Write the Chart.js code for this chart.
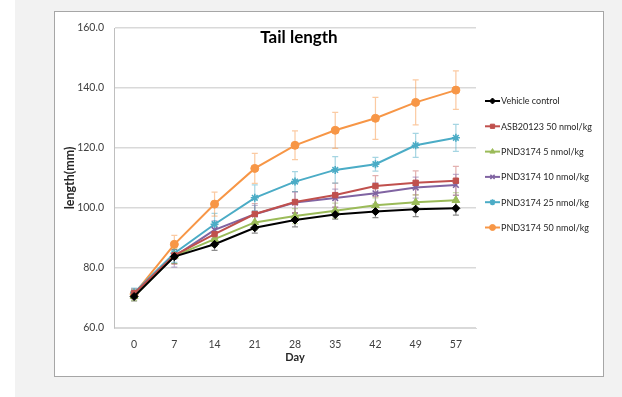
<!DOCTYPE html>
<html>
<head>
<meta charset="utf-8">
<title>Tail length</title>
<script src="https://cdn.jsdelivr.net/npm/chart.js@4.4.1/dist/chart.umd.min.js"></script>
<style>
  html, body { margin: 0; padding: 0; width: 622px; height: 397px; overflow: hidden; background: #ffffff; }
  #page { position: absolute; left: 15px; top: 0; width: 607px; height: 397px; background: #f2f2f2; }
  #frame { position: absolute; left: 54px; top: 11px; width: 548px; height: 364px; background: #ffffff; border: 1px solid #a6a6a6; }
  #wrap { position: absolute; left: 0; top: 0; width: 622px; height: 397px; }
  canvas { display: block; }
</style>
</head>
<body>
<div id="page"></div>
<div id="frame"></div>
<div id="wrap"><canvas id="c" width="622" height="397" style="width:622px;height:397px"></canvas></div>
<script>
// Measurement days
const days = ['0', '7', '14', '21', '28', '35', '42', '49', '57'];

// Group names
const groupNames = [
  'Vehicle control',
  'ASB20123 50 nmol/kg',
  'PND3174 5 nmol/kg',
  'PND3174 10 nmol/kg',
  'PND3174 25 nmol/kg',
  'PND3174 50 nmol/kg'
];

// Mean tail length (mm)
const vehicle = [70.5, 83.8, 87.9, 93.4, 96.0, 97.8, 98.8, 99.6, 99.9];
const asb50   = [71.6, 84.2, 91.3, 98.0, 102.0, 104.3, 107.3, 108.4, 109.1];
const pnd5    = [70.6, 84.0, 89.6, 95.2, 97.3, 99.1, 100.9, 101.9, 102.6];
const pnd10   = [71.2, 83.8, 92.7, 97.9, 101.8, 103.3, 104.9, 106.8, 107.7];
const pnd25   = [71.8, 84.9, 94.6, 103.4, 108.8, 112.7, 114.6, 120.9, 123.4];
const pnd50   = [71.3, 87.9, 101.3, 113.2, 120.9, 125.9, 129.9, 135.2, 139.3];

// Standard deviation (mm)
const vehicleSd = [1.5, 2.3, 2.0, 1.8, 2.3, 1.5, 2.0, 2.5, 2.3];
const asb50Sd   = [1.5, 3.0, 3.0, 3.5, 3.5, 4.0, 3.5, 4.0, 4.8];
const pnd5Sd    = [1.5, 2.5, 2.5, 2.5, 2.5, 2.5, 2.5, 2.5, 2.5];
const pnd10Sd   = [1.5, 3.5, 3.0, 3.0, 3.5, 3.0, 3.5, 3.5, 3.5];
const pnd25Sd   = [1.5, 3.0, 3.6, 4.3, 3.3, 4.4, 2.3, 4.0, 4.5];
const pnd50Sd   = [1.5, 3.0, 4.0, 5.0, 4.8, 6.0, 7.0, 7.5, 6.4];

// Y axis range
const yMin = 60, yMax = 160, yStep = 20;

const seriesValues = [vehicle, asb50, pnd5, pnd10, pnd25, pnd50];
const seriesSd = [vehicleSd, asb50Sd, pnd5Sd, pnd10Sd, pnd25Sd, pnd50Sd];
const lineColors = ['#000000', '#c0504d', '#9bbb59', '#8064a2', '#4bacc6', '#f79646'];
const barColors = ['rgba(0,0,0,0.45)', 'rgba(192,80,77,0.45)', 'rgba(155,187,89,0.5)',
                   'rgba(128,100,162,0.5)', 'rgba(75,172,198,0.5)', 'rgba(247,150,70,0.5)'];
const markers = ['rectRot', 'rect', 'triangle', 'crossRot', 'star', 'circle'];
const markerRadius = [4, 3.8, 4.5, 4, 4, 4];

const FONT = 'Lato, "Open Sans", sans-serif';

const datasets = seriesValues.map((vals, i) => ({
  label: groupNames[i],
  data: vals,
  borderColor: lineColors[i],
  backgroundColor: lineColors[i],
  borderWidth: 2,
  pointStyle: markers[i],
  pointRadius: markerRadius[i],
  pointBorderWidth: (markers[i] === 'crossRot' || markers[i] === 'star') ? 1.6 : 1,
  pointBackgroundColor: lineColors[i],
  pointBorderColor: lineColors[i],
  tension: 0,
  fill: false
}));

// Vertical error bars with short caps, drawn under the lines
const errorBars = {
  id: 'errorBars',
  beforeDatasetsDraw(chart) {
    const { ctx, scales: { x, y } } = chart;
    ctx.save();
    ctx.lineWidth = 1.2;
    chart.data.datasets.forEach((ds, i) => {
      const sd = seriesSd[i];
      ctx.strokeStyle = barColors[i];
      ds.data.forEach((v, j) => {
        const px = x.getPixelForValue(j);
        const top = y.getPixelForValue(v + sd[j]);
        const bot = y.getPixelForValue(v - sd[j]);
        ctx.beginPath();
        ctx.moveTo(px, top); ctx.lineTo(px, bot);
        ctx.moveTo(px - 3, top); ctx.lineTo(px + 3, top);
        ctx.moveTo(px - 3, bot); ctx.lineTo(px + 3, bot);
        ctx.stroke();
      });
    });
    ctx.restore();
  }
};

// Title inside the plot and the legend to its right
const annotations = {
  id: 'annotations',
  afterDraw(chart) {
    const { ctx, chartArea } = chart;
    ctx.save();
    ctx.fillStyle = '#000000';
    ctx.font = 'bold 17px ' + FONT;
    ctx.textAlign = 'center';
    ctx.textBaseline = 'middle';
    ctx.fillText('Tail length', 299, 38);

    const lx = chartArea.right + 9;
    const ly0 = 101, dy = 25.3;
    chart.data.datasets.forEach((ds, i) => {
      const yy = ly0 + i * dy;
      ctx.strokeStyle = lineColors[i];
      ctx.lineWidth = 2;
      ctx.beginPath();
      ctx.moveTo(lx, yy); ctx.lineTo(lx + 15, yy);
      ctx.stroke();
      ctx.fillStyle = lineColors[i];
      ctx.lineWidth = ds.pointBorderWidth;
      Chart.helpers.drawPoint(ctx, { pointStyle: markers[i], radius: 3, rotation: 0, borderWidth: ds.pointBorderWidth }, lx + 7.5, yy);
      ctx.fillStyle = '#262626';
      ctx.font = '9px ' + FONT;
      ctx.textAlign = 'left';
      ctx.textBaseline = 'middle';
      ctx.fillText(ds.label, lx + 16, yy + 0.5);
    });
    ctx.restore();
  }
};

new Chart(document.getElementById('c'), {
  type: 'line',
  data: { labels: days, datasets },
  options: {
    responsive: false,
    animation: false,
    layout: { padding: { left: 0, right: 146, top: 28, bottom: 0 } },
    plugins: {
      legend: { display: false },
      title: { display: false },
      tooltip: { enabled: false }
    },
    scales: {
      x: {
        type: 'category',
        offset: true,
        grid: { display: false, drawTicks: false },
        border: { display: true, color: '#d9d9d9', width: 1 },
        ticks: { color: '#404040', font: { family: FONT, size: 10.5 }, padding: 10, maxRotation: 0 },
        title: { display: true, text: 'Day', color: '#262626', font: { family: FONT, size: 11, weight: 'bold' }, padding: { top: 0, bottom: 33 } },
        afterFit(scale) { scale.height = 69; }
      },
      y: {
        min: yMin,
        max: yMax,
        ticks: {
          stepSize: yStep,
          color: '#404040',
          font: { family: FONT, size: 10.5 },
          padding: 10,
          callback: v => Number(v).toFixed(1)
        },
        grid: { color: '#d9d9d9', lineWidth: 1.5, drawTicks: false },
        border: { display: true, color: '#bfbfbf', width: 1 },
        title: { display: true, text: 'length(mm)', color: '#262626', font: { family: FONT, size: 12.5, weight: 'bold' }, padding: { top: 62, bottom: 0 } },
        afterFit(scale) { scale.width = 114; }
      }
    }
  },
  plugins: [errorBars, annotations]
});
</script>
</body>
</html>
